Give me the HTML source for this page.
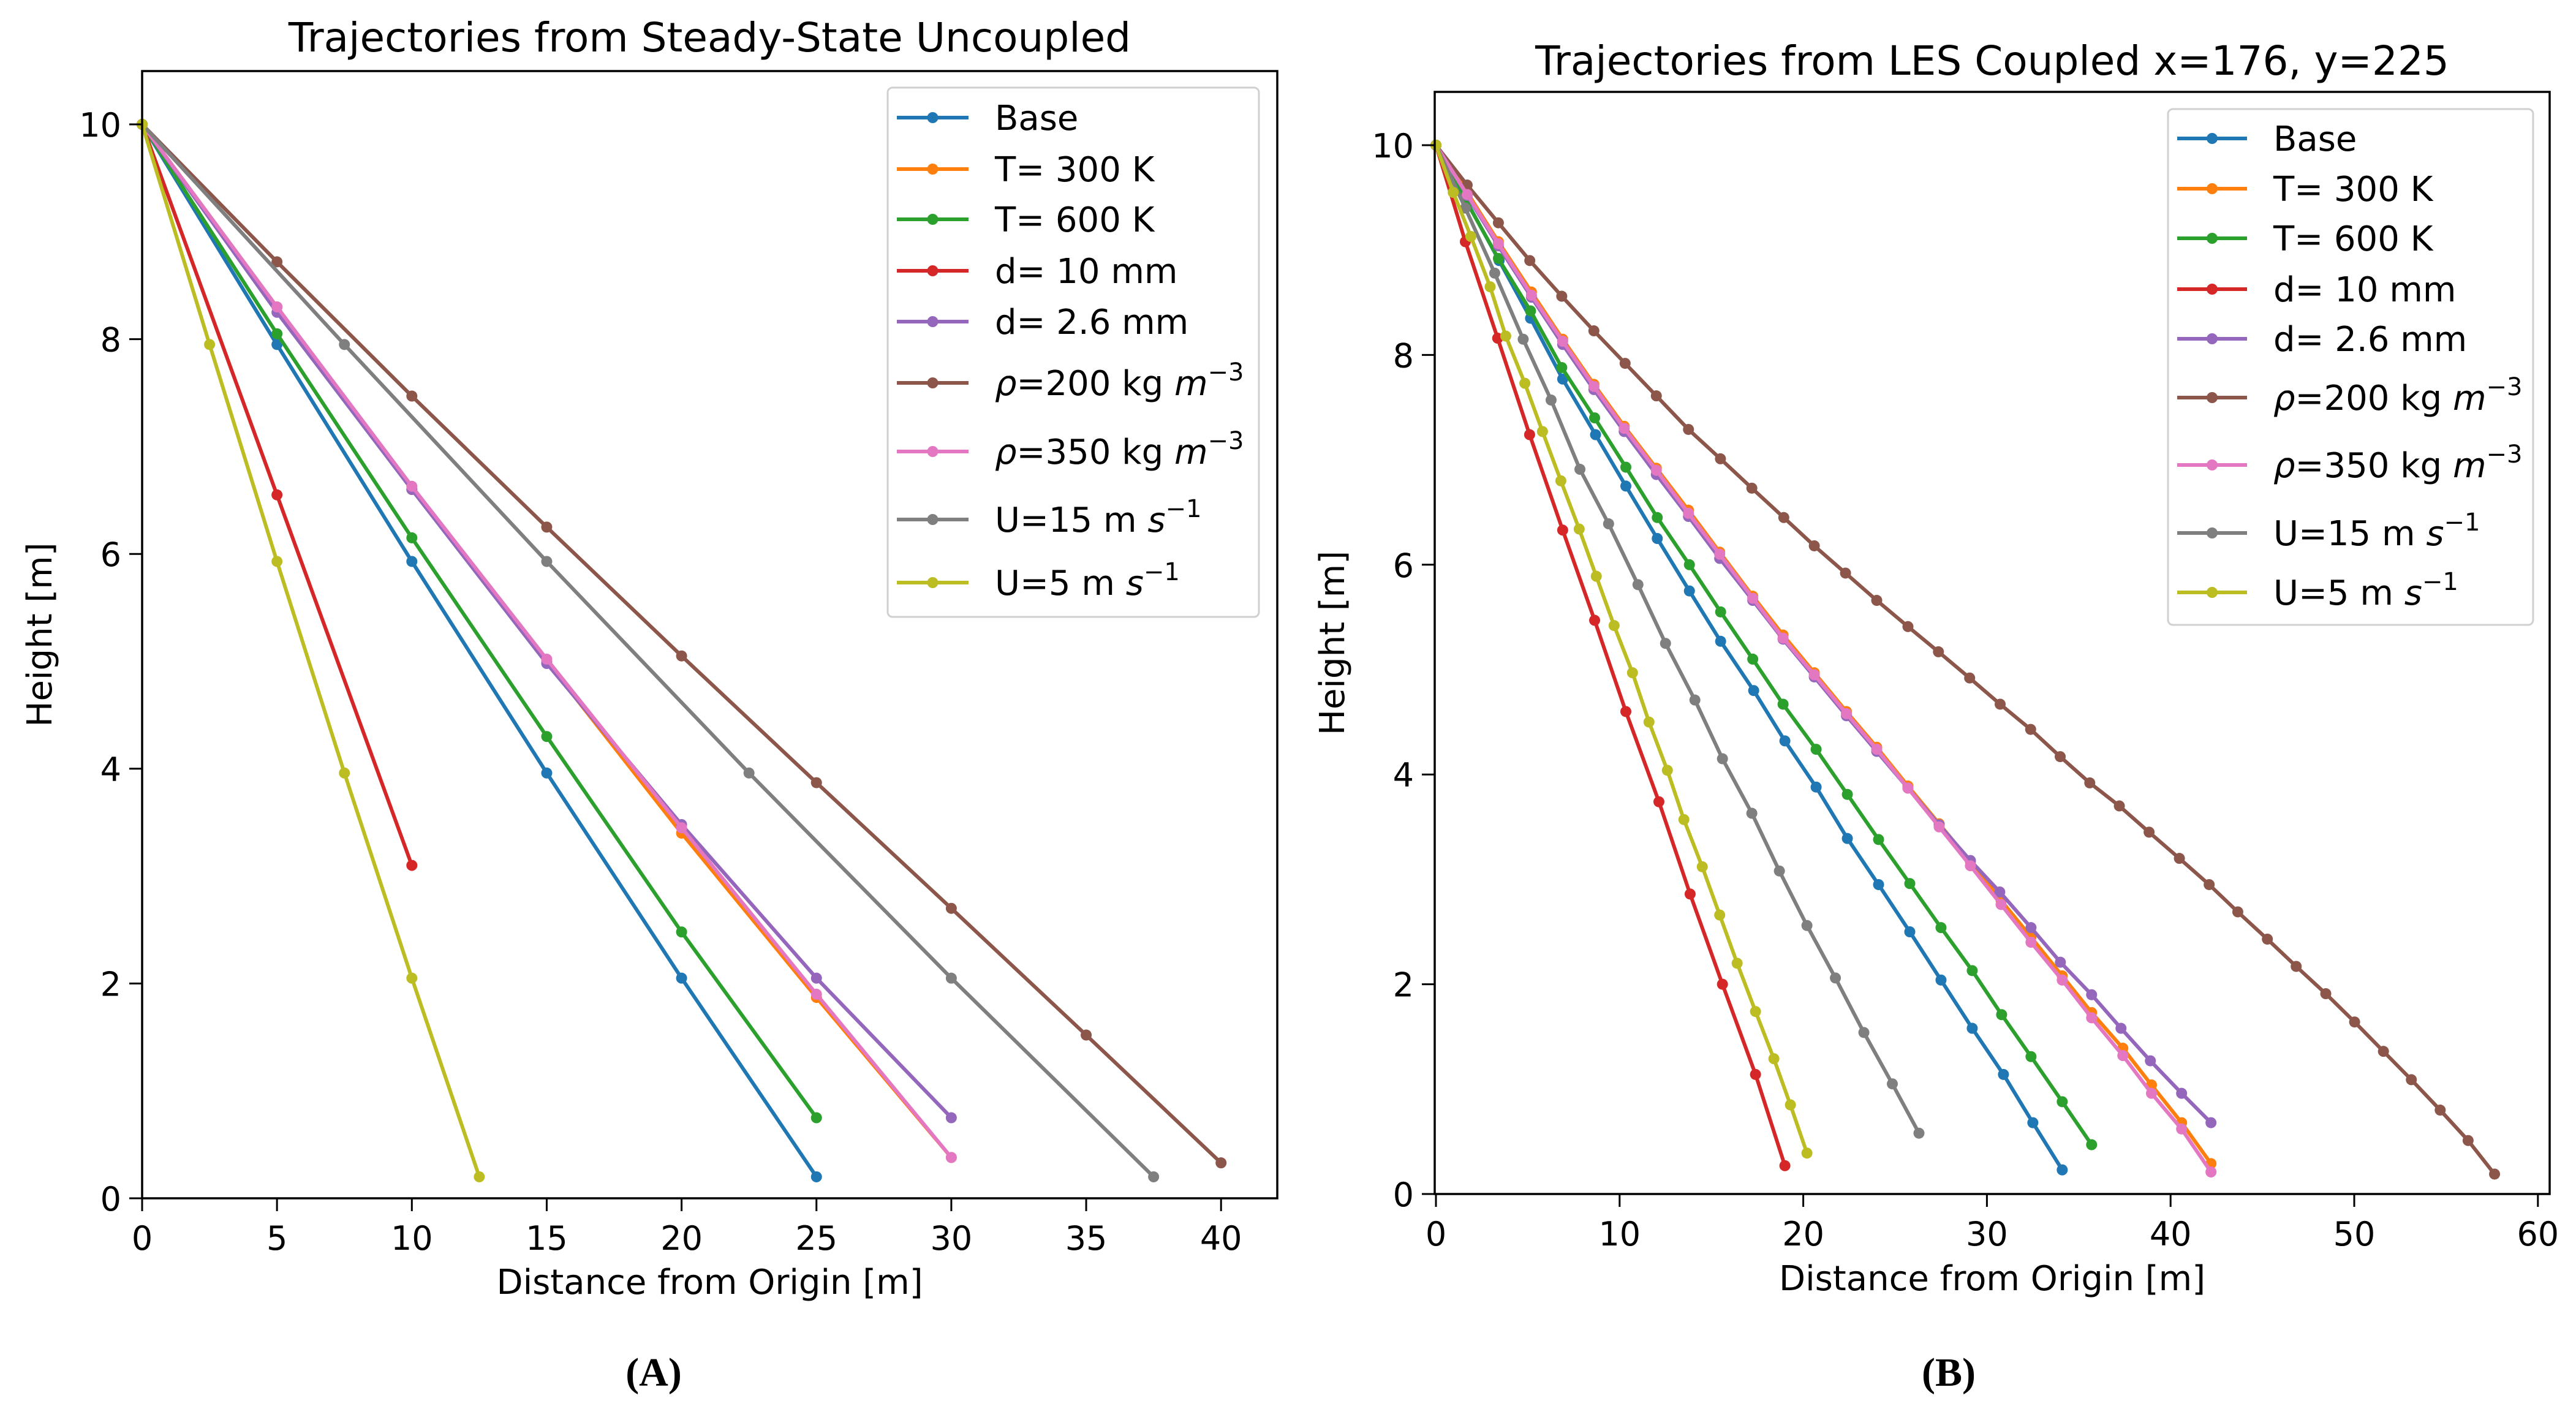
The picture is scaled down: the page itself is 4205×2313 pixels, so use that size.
<!DOCTYPE html>
<html><head><meta charset="utf-8">
<style>
html,body{margin:0;padding:0;background:#fff;}
svg{display:block;}
text{fill:#000;}
</style></head>
<body>
<svg id="fig" width="4205" height="2313" viewBox="0 0 4205 2313" xmlns="http://www.w3.org/2000/svg" style="font-family:'DejaVu Sans','Liberation Sans',sans-serif">
<rect x="0" y="0" width="4205" height="2313" fill="#fff"/>
</svg>
<script>
// ---------- data: panel A ----------
const seriesLabels = ["Base","T= 300 K","T= 600 K","d= 10 mm","d= 2.6 mm","rho200","rho350","U15","U5"];
const seriesNames = ["base","t-300k","t-600k","d-10mm","d-2-6mm","rho-200","rho-350","u-15","u-5"];
const colors = ["#1f77b4","#ff7f0e","#2ca02c","#d62728","#9467bd","#8c564b","#e377c2","#7f7f7f","#bcbd22"];

const aBaseX=[0,5,10,15,20,25];          const aBaseY=[10,7.95,5.93,3.96,2.05,0.2];
const aT300X=[0,5,10,15,20,25,30];       const aT300Y=[10,8.3,6.6,5.0,3.4,1.87,0.38];
const aT600X=[0,5,10,15,20,25];          const aT600Y=[10,8.05,6.15,4.3,2.48,0.75];
const aD10X=[0,5,10];                    const aD10Y=[10,6.55,3.1];
const aD26X=[0,5,10,15,20,25,30];        const aD26Y=[10,8.25,6.6,4.98,3.48,2.05,0.75];
const aR200X=[0,5,10,15,20,25,30,35,40]; const aR200Y=[10,8.72,7.47,6.25,5.05,3.87,2.7,1.52,0.33];
const aR350X=[0,5,10,15,20,25,30];       const aR350Y=[10,8.3,6.63,5.02,3.45,1.9,0.38];
const aU15X=[0,7.5,15,22.5,30,37.5];     const aU15Y=[10,7.95,5.93,3.96,2.05,0.2];
const aU5X=[0,2.5,5,7.5,10,12.5];        const aU5Y=[10,7.95,5.93,3.96,2.05,0.2];
const aXTicks=[0,5,10,15,20,25,30,35,40];
const aYTicks=[0,2,4,6,8,10];

// ---------- data: panel B ----------
const bBaseX=[0,1.72,3.44,5.15,6.9,8.69,10.34,12.05,13.8,15.5,17.3,19.0,20.7,22.4,24.1,25.8,27.5,29.2,30.9,32.5,34.1];
const bBaseY=[10,9.45,8.9,8.35,7.77,7.24,6.75,6.25,5.75,5.27,4.8,4.32,3.88,3.39,2.95,2.5,2.04,1.58,1.14,0.68,0.23];
const bT300X=[0,1.7,3.4,5.2,6.9,8.6,10.25,12.0,13.75,15.45,17.25,18.9,20.6,22.35,24.0,25.7,27.4,29.1,30.77,32.4,34.1,35.7,37.4,38.96,40.6,42.2];
const bT300Y=[10,9.55,9.08,8.6,8.15,7.72,7.32,6.92,6.52,6.12,5.7,5.33,4.97,4.6,4.26,3.89,3.53,3.17,2.8,2.45,2.08,1.73,1.39,1.04,0.68,0.29];
const bT600X=[0,1.7,3.4,5.15,6.85,8.64,10.34,12.05,13.8,15.5,17.25,18.9,20.7,22.4,24.1,25.8,27.5,29.2,30.8,32.4,34.1,35.7];
const bT600Y=[10,9.45,8.92,8.42,7.88,7.4,6.93,6.45,6.0,5.55,5.1,4.67,4.24,3.81,3.38,2.96,2.54,2.13,1.71,1.31,0.88,0.47];
const bD10X=[0,1.6,3.36,5.1,6.9,8.64,10.34,12.14,13.84,15.6,17.4,19.0];
const bD10Y=[10,9.08,8.16,7.24,6.33,5.47,4.6,3.74,2.86,2.0,1.14,0.27];
const bD26X=[0,1.7,3.4,5.2,6.9,8.6,10.25,12.0,13.75,15.45,17.25,18.9,20.6,22.35,24.0,25.7,27.4,29.1,30.7,32.4,34.0,35.7,37.3,38.9,40.6,42.2];
const bD26Y=[10,9.52,9.04,8.55,8.1,7.67,7.27,6.86,6.46,6.06,5.66,5.29,4.93,4.56,4.22,3.87,3.52,3.18,2.88,2.54,2.21,1.9,1.58,1.27,0.96,0.68];
const bR200X=[0,1.7,3.4,5.11,6.85,8.6,10.3,12.0,13.75,15.49,17.2,18.94,20.6,22.3,24.0,25.7,27.36,29.06,30.72,32.38,33.99,35.6,37.21,38.83,40.48,42.1,43.66,45.27,46.84,48.45,50.02,51.59,53.11,54.68,56.2,57.64];
const bR200Y=[10,9.62,9.26,8.9,8.56,8.23,7.92,7.61,7.29,7.01,6.73,6.45,6.18,5.92,5.66,5.41,5.17,4.92,4.67,4.43,4.17,3.92,3.7,3.45,3.2,2.95,2.69,2.43,2.17,1.91,1.64,1.36,1.09,0.8,0.51,0.19];
const bR350X=[0,1.7,3.4,5.2,6.9,8.6,10.25,12.0,13.75,15.45,17.25,18.9,20.6,22.35,24.0,25.7,27.4,29.1,30.77,32.4,34.1,35.7,37.4,38.96,40.6,42.2];
const bR350Y=[10,9.53,9.06,8.57,8.13,7.7,7.3,6.9,6.49,6.1,5.68,5.3,4.95,4.58,4.24,3.87,3.5,3.13,2.76,2.4,2.04,1.68,1.32,0.96,0.62,0.21];
const bU15X=[0,1.6,3.2,4.75,6.27,7.84,9.4,11.0,12.5,14.1,15.6,17.2,18.7,20.2,21.75,23.3,24.85,26.3];
const bU15Y=[10,9.4,8.78,8.15,7.57,6.91,6.39,5.81,5.25,4.71,4.15,3.63,3.08,2.56,2.06,1.54,1.05,0.58];
const bU5X=[0,0.94,1.9,2.95,3.8,4.84,5.8,6.8,7.8,8.73,9.7,10.7,11.6,12.6,13.5,14.5,15.45,16.4,17.4,18.4,19.3,20.2];
const bU5Y=[10,9.55,9.13,8.65,8.18,7.73,7.27,6.8,6.34,5.89,5.42,4.97,4.5,4.04,3.57,3.12,2.66,2.2,1.74,1.29,0.85,0.39];
const bXTicks=[0,10,20,30,40,50,60];
const bYTicks=[0,2,4,6,8,10];

const NS="http://www.w3.org/2000/svg";
const fig=document.getElementById('fig');
function mk(tag,attrs,parent){const e=document.createElementNS(NS,tag);for(const k in attrs)e.setAttribute(k,attrs[k]);(parent||fig).appendChild(e);return e;}
function txt(str,x,y,fs,anchor,parent){const t=mk('text',{x:x,y:y,'font-size':fs,'text-anchor':anchor||'start'},parent);t.textContent=str;return t;}

function panel(cfg){
  const g=mk('g',{});
  
  
  const X=v=>cfg.x0+(v-cfg.xmin)*cfg.xs;
  const Y=v=>cfg.y0-(v-cfg.ymin)*cfg.ys;
  for(let i=0;i<cfg.xs_.length;i++){
    const sg=mk('g',{},g);
    
    
    const xs=cfg.xs_[i], ys=cfg.ys_[i];
    const pts=xs.map((v,j)=>X(v).toFixed(1)+','+Y(ys[j]).toFixed(1)).join(' ');
    const pl=mk('polyline',{points:pts,fill:'none',stroke:colors[i],'stroke-width':6,'stroke-linejoin':'round'},sg);
    
    
    xs.forEach((v,j)=>{
      const c=mk('circle',{cx:X(v),cy:Y(ys[j]),r:9,fill:colors[i]},sg);
      
      
    });
  }
  const fr=mk('rect',{x:cfg.L,y:cfg.T,width:cfg.R-cfg.L,height:cfg.B-cfg.T,fill:'none',stroke:'#000','stroke-width':3.5},g);
  
  
  cfg.xt.forEach(v=>{
    mk('line',{x1:X(v),x2:X(v),y1:cfg.B,y2:cfg.B+21,stroke:'#000','stroke-width':3},g);
    const t=txt(String(v),X(v),cfg.B+84,54,'middle',g);
    
    
  });
  cfg.yt.forEach(v=>{
    mk('line',{x1:cfg.L-21,x2:cfg.L,y1:Y(v),y2:Y(v),stroke:'#000','stroke-width':3},g);
    const t=txt(String(v),cfg.L-34,Y(v)+20,54,'end',g);
    
    
  });
  const tt=txt(cfg.title,(cfg.L+cfg.R)/2,cfg.titleY,66,'middle',g);
  
  
  const xl=txt('Distance from Origin [m]',(cfg.L+cfg.R)/2,cfg.xlY,56,'middle',g);
  
  
  const yl=mk('text',{x:0,y:0,'font-size':56,'text-anchor':'middle',transform:`translate(${cfg.ylX},${(cfg.T+cfg.B)/2}) rotate(-90)`},g);
  yl.textContent='Height [m]';
  
  
  const lg=mk('g',{},g);
  
  
  mk('rect',{x:cfg.lgX,y:cfg.lgY,width:cfg.lgW,height:cfg.lgH,rx:8,fill:'#fff','fill-opacity':0.85,stroke:'#d0d0d0','stroke-width':3},lg);
  cfg.lgRows.forEach((ry,i)=>{
    const e=mk('g',{},lg);
    
    
    mk('line',{x1:cfg.lgL1,x2:cfg.lgL2,y1:ry,y2:ry,stroke:colors[i],'stroke-width':6},e);
    mk('circle',{cx:(cfg.lgL1+cfg.lgL2)/2,cy:ry,r:9,fill:colors[i]},e);
    const t=mk('text',{x:cfg.lgT,y:ry+20,'font-size':56},e);
    const lab=seriesLabels[i];
    if(lab==='rho200'||lab==='rho350'){
      t.innerHTML=`<tspan font-style="italic">ρ</tspan>=${lab.slice(3)} kg <tspan font-style="italic">m</tspan><tspan dy="-24" font-size="40">−3</tspan>`;
    } else if(lab==='U15'||lab==='U5'){
      t.innerHTML=`U=${lab.slice(1)} m <tspan font-style="italic">s</tspan><tspan dy="-24" font-size="40">−1</tspan>`;
    } else t.textContent=lab;
  });
}

panel({name:'panel-a-steady-state',x0:232,xmin:0,xs:44.03,y0:1956,ymin:0,ys:175.3,
  L:232,R:2085,T:116,B:1956,xt:aXTicks,yt:aYTicks,
  xs_:[aBaseX,aT300X,aT600X,aD10X,aD26X,aR200X,aR350X,aU15X,aU5X],
  ys_:[aBaseY,aT300Y,aT600Y,aD10Y,aD26Y,aR200Y,aR350Y,aU15Y,aU5Y],
  title:'Trajectories from Steady-State Uncoupled',titleY:84,xlY:2112,ylX:84,
  lgX:1449,lgY:143,lgW:606,lgH:864,lgL1:1464,lgL2:1581,lgT:1624,
  lgRows:[192,276,358,442,525,625,737,848,951]});

panel({name:'panel-b-les-coupled',x0:2344,xmin:0,xs:29.98,y0:1949,ymin:0,ys:171.2,
  L:2342,R:4162,T:150,B:1949,xt:bXTicks,yt:bYTicks,
  xs_:[bBaseX,bT300X,bT600X,bD10X,bD26X,bR200X,bR350X,bU15X,bU5X],
  ys_:[bBaseY,bT300Y,bT600Y,bD10Y,bD26Y,bR200Y,bR350Y,bU15Y,bU5Y],
  title:'Trajectories from LES Coupled x=176, y=225',titleY:122,xlY:2106,ylX:2194,
  lgX:3539,lgY:178,lgW:596,lgH:842,lgL1:3554,lgL2:3668,lgT:3711,
  lgRows:[226,308,389,472,553,649,759,870,967]});

const ca=mk('text',{x:1067,y:2262,'font-size':66,'font-weight':'bold','text-anchor':'middle',style:"font-family:'Liberation Serif',serif"});
ca.textContent='(A)';


const cb=mk('text',{x:3181,y:2262,'font-size':66,'font-weight':'bold','text-anchor':'middle',style:"font-family:'Liberation Serif',serif"});
cb.textContent='(B)';


</script>
</body></html>
